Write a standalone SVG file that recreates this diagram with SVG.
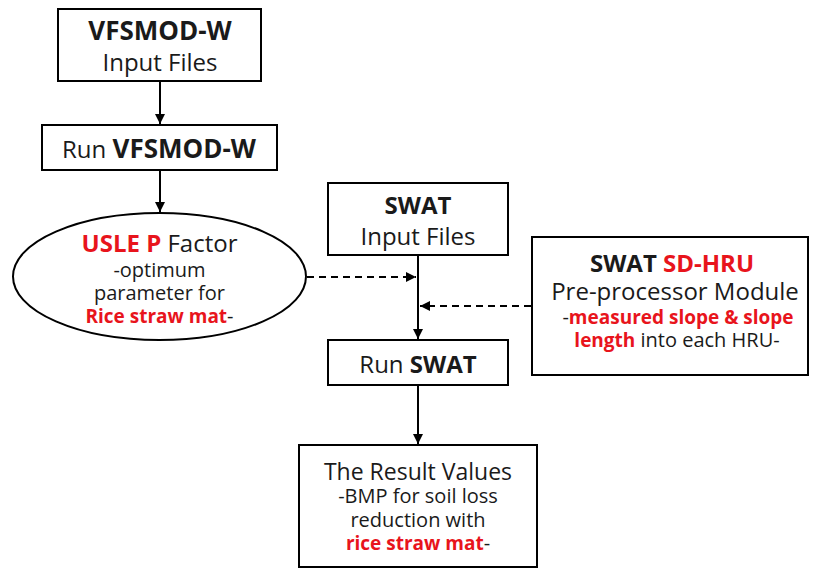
<svg xmlns="http://www.w3.org/2000/svg" width="814" height="569" viewBox="0 0 814 569">
  <style>
    .box { fill: #ffffff; stroke: #000000; stroke-width: 2; }
    .link { fill: none; stroke: #000000; stroke-width: 2; }
    .dash { fill: none; stroke: #000000; stroke-width: 2; stroke-dasharray: 7 5; }
    text { font-family: "Open Sans", "Noto Sans", sans-serif; fill: #1a1a1a; text-anchor: middle; }
    .big { font-size: 24px; }
    .mid { font-size: 20px; }
    .b { font-weight: bold; }
    .hd { font-size: 26px; }
    .em { font-size: 19px; }
    .red { fill: #e8141c; }
  </style>
  <defs>
    <marker id="arrow" viewBox="0 0 10 10" refX="10" refY="5" markerWidth="5" markerHeight="5" markerUnits="strokeWidth" orient="auto">
      <path d="M0,0 L10,5 L0,10 z" fill="#000000"/>
    </marker>
  </defs>

  <rect width="814" height="569" fill="#ffffff"/>

  <!-- connectors -->
  <g id="connectors">
    <line class="link" x1="160" y1="81" x2="160" y2="124" marker-end="url(#arrow)"/>
    <line class="link" x1="160" y1="170" x2="160" y2="212" marker-end="url(#arrow)"/>
    <line class="link" x1="418" y1="255" x2="418" y2="339" marker-end="url(#arrow)"/>
    <line class="dash" x1="307" y1="277" x2="416" y2="277" marker-end="url(#arrow)"/>
    <line class="dash" x1="531" y1="306" x2="420" y2="306" marker-end="url(#arrow)"/>
    <line class="link" x1="418" y1="385" x2="418" y2="444" marker-end="url(#arrow)"/>
  </g>

  <!-- VFSMOD-W input files -->
  <g id="vfsmod-input">
    <rect class="box" x="58" y="9" width="203" height="72"/>
    <text class="big b hd" x="160" y="40">VFSMOD-W</text>
    <text class="big" x="160" y="71">Input Files</text>
  </g>

  <!-- Run VFSMOD-W -->
  <g id="run-vfsmod">
    <rect class="box" x="42" y="125" width="235" height="45"/>
    <text class="big" x="159" y="158">Run <tspan class="b hd">VFSMOD-W</tspan></text>
  </g>

  <!-- USLE P factor -->
  <g id="usle-p">
    <ellipse class="box" cx="159.5" cy="276.5" rx="146.5" ry="63.5"/>
    <text class="big" x="159.5" y="252"><tspan class="b red">USLE P</tspan> Factor</text>
    <text class="mid" x="159.5" y="277">-optimum</text>
    <text class="mid" x="159.5" y="300">parameter for</text>
    <text class="mid" x="159.5" y="323"><tspan class="b red em">Rice straw mat</tspan>-</text>
  </g>

  <!-- SWAT input files -->
  <g id="swat-input">
    <rect class="box" x="328" y="183" width="180" height="72"/>
    <text class="big b" x="418" y="214">SWAT</text>
    <text class="big" x="418" y="245">Input Files</text>
  </g>

  <!-- SWAT SD-HRU pre-processor -->
  <g id="sd-hru">
    <rect class="box" x="532" y="237" width="276" height="138"/>
    <text class="big" x="672" y="272"><tspan class="b">SWAT </tspan><tspan class="b red">SD-HRU</tspan></text>
    <text class="big" x="675" y="300">Pre-processor Module</text>
    <text class="mid" x="678" y="324">-<tspan class="b red em">measured slope &amp; slope</tspan></text>
    <text class="mid" x="677" y="347"><tspan class="b red em">length</tspan> into each HRU-</text>
  </g>

  <!-- Run SWAT -->
  <g id="run-swat">
    <rect class="box" x="328" y="340" width="180" height="45"/>
    <text class="big" x="418" y="373">Run <tspan class="b">SWAT</tspan></text>
  </g>

  <!-- Result values -->
  <g id="result">
    <rect class="box" x="299" y="445" width="238" height="122"/>
    <text class="big" x="418" y="480" style="font-size:23px">The Result Values</text>
    <text class="mid" x="418" y="503">-BMP for soil loss</text>
    <text class="mid" x="418" y="527">reduction with</text>
    <text class="mid" x="418" y="550"><tspan class="b red em">rice straw mat</tspan>-</text>
  </g>
</svg>
